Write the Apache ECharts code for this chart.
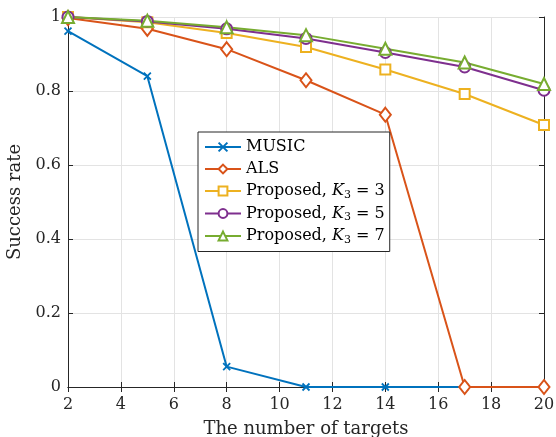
<!DOCTYPE html>
<html>
<head>
<meta charset="utf-8">
<script src="https://cdn.jsdelivr.net/npm/echarts@6/dist/echarts.min.js"></script>
<style>
  html, body { margin: 0; padding: 0; background: #fff; }
  #chart { width: 556px; height: 437px; }
</style>
</head>
<body>
<div id="chart"></div>
<script>
    var targets = [2, 5, 8, 11, 14, 17, 20];
    var music = [0.962, 0.840, 0.055, 0, 0, 0, 0];
    var als = [0.997, 0.968, 0.913, 0.829, 0.736, 0, 0];
    var propK3 = [1.0, 0.986, 0.957, 0.919, 0.858, 0.792, 0.708];
    var propK5 = [1.0, 0.988, 0.968, 0.942, 0.904, 0.865, 0.802];
    var propK7 = [1.0, 0.990, 0.972, 0.951, 0.914, 0.877, 0.819];
    var seriesNames = ['MUSIC', 'ALS', 'Proposed, K3 = 3', 'Proposed, K3 = 5', 'Proposed, K3 = 7'];
    var yTicks = [0, 0.2, 0.4, 0.6, 0.8, 1];

    var font = 'DejaVu Serif';
    var axisColor = '#262626';
    var xMark = 'path://M0,0L10,10M10,0L0,10';

    function pairs(ys) {
        return targets.map(function (x, i) { return [x, ys[i]]; });
    }

    function makeSeries(name, ys, color, symbol, size) {
        return {
            name: name,
            type: 'line',
            data: pairs(ys),
            symbol: symbol,
            symbolSize: size,
            showAllSymbol: true,
            lineStyle: { color: color, width: 2 },
            itemStyle: { color: color, borderColor: color, borderWidth: 1.8 },
            emphasis: { disabled: true },
            z: 3
        };
    }

    var chart = echarts.init(document.getElementById('chart'));

    var option = {
        animation: false,
        backgroundColor: '#fff',
        textStyle: { fontFamily: font },
        grid: { left: 68, right: 12, top: 17, bottom: 50, containLabel: false, outerBoundsMode: 'none' },
        legend: {
            orient: 'vertical',
            left: 198,
            top: 132,
            itemWidth: 36,
            itemHeight: 11,
            itemGap: 4,
            padding: [6, 5, 6, 6],
            borderColor: axisColor,
            borderWidth: 1,
            borderRadius: 0,
            backgroundColor: '#fff',
            textStyle: {
                fontFamily: font, fontSize: 16, color: '#000', lineHeight: 18,
                rich: {
                    i: { fontFamily: font, fontSize: 16, fontStyle: 'italic', color: '#000' },
                    s: { fontFamily: font, fontSize: 11, color: '#000', padding: [8, 0, 0, 0] },
                    n: { fontFamily: font, fontSize: 16, color: '#000' }
                }
            },
            formatter: function (name) {
                var m = name.match(/K(\d) = (\d)/);
                if (m) {
                    return '{n|Proposed, }{i|K}{s|' + m[1] + '}{n| = ' + m[2] + '}';
                }
                return name;
            },
            data: seriesNames
        },
        xAxis: [{
            type: 'value',
            min: 2, max: 20, interval: 2,
            name: 'The number of targets',
            nameLocation: 'middle',
            nameGap: 33,
            nameTextStyle: { fontFamily: font, fontSize: 18, color: '#262626' },
            axisLine: { lineStyle: { color: axisColor, width: 1 } },
            axisTick: { inside: true, length: 5, lineStyle: { color: axisColor } },
            axisLabel: { fontFamily: font, fontSize: 16, color: '#262626', margin: 10 },
            splitLine: { show: true, lineStyle: { color: '#e3e3e3', width: 1 } }
        }, {
            type: 'value', position: 'top',
            min: 2, max: 20, interval: 2,
            axisLine: { lineStyle: { color: axisColor, width: 1 } },
            axisTick: { inside: true, length: 5, lineStyle: { color: axisColor } },
            axisLabel: { show: false },
            splitLine: { show: false }
        }],
        yAxis: [{
            type: 'value',
            min: 0, max: 1, interval: 0.2,
            name: 'Success rate',
            nameLocation: 'middle',
            nameGap: 36,
            nameTextStyle: { fontFamily: font, fontSize: 18, color: '#262626' },
            axisLine: { show: true, lineStyle: { color: axisColor, width: 1 } },
            axisTick: { show: true, inside: true, length: 5, lineStyle: { color: axisColor } },
            axisLabel: {
                fontFamily: font, fontSize: 16, color: '#262626', margin: 7,
                formatter: function (v) { return yTicks.indexOf(+v.toFixed(1)) >= 0 ? String(+v.toFixed(1)) : ''; }
            },
            splitLine: { show: true, lineStyle: { color: '#e3e3e3', width: 1 } }
        }, {
            type: 'value', position: 'right',
            min: 0, max: 1, interval: 0.2,
            axisLine: { show: true, lineStyle: { color: axisColor, width: 1 } },
            axisTick: { show: true, inside: true, length: 5, lineStyle: { color: axisColor } },
            axisLabel: { show: false },
            splitLine: { show: false }
        }],
        series: [
            makeSeries(seriesNames[0], music, '#0072BD', xMark, 7),
            makeSeries(seriesNames[1], als, '#D95319', 'emptyDiamond', [11, 14]),
            makeSeries(seriesNames[2], propK3, '#EDB120', 'emptyRect', 10),
            makeSeries(seriesNames[3], propK5, '#7E2F8E', 'emptyCircle', 11),
            makeSeries(seriesNames[4], propK7, '#77AC30', 'emptyTriangle', 12)
        ]
    };

    chart.setOption(option);
</script>
</body>
</html>
